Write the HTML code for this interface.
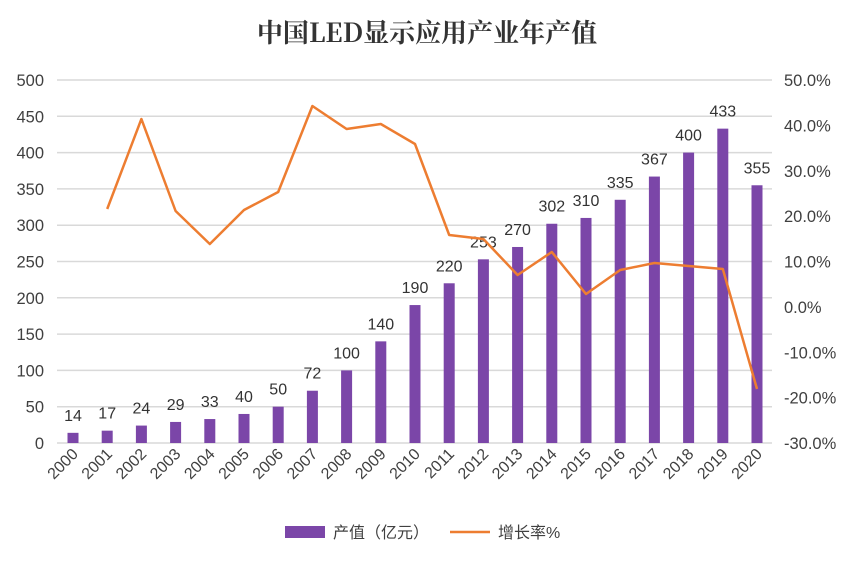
<!DOCTYPE html>
<html><head><meta charset="utf-8"><style>
body{margin:0;background:#fff;}
svg text{font-family:"Liberation Sans","Noto Sans CJK SC",sans-serif;fill:#404040;}
</style></head><body>
<svg width="854" height="565" viewBox="0 0 854 565" xmlns="http://www.w3.org/2000/svg">
<rect width="854" height="565" fill="#fff"/>
<text x="427" y="42" text-anchor="middle" font-size="26" font-weight="bold" style="font-family:'Noto Serif CJK SC',serif;fill:#333">中国LED显示应用产业年产值</text>
<g stroke="#d9d9d9" stroke-width="1.5" id="grid"></g>
<g id="bars" fill="#7b46a8"></g>
<g id="labels" font-size="16" text-anchor="middle"></g>
<g id="yl" font-size="16.5" text-anchor="end"></g>
<g id="yr" font-size="16.5" text-anchor="start"></g>
<g id="xl" font-size="16"></g>
<polyline id="line" fill="none" stroke="#ed7d31" stroke-width="2.5" stroke-linejoin="round"/>
<rect x="285" y="526" width="40" height="12" fill="#7b46a8"/>
<text x="333" y="538" font-size="16">产值（亿元）</text>
<line x1="450" y1="532" x2="490" y2="532" stroke="#ed7d31" stroke-width="2.5"/>
<text x="498" y="538" font-size="16">增长率%</text>
<script>
var ns="http://www.w3.org/2000/svg";
function el(p,t,a,txt){var e=document.createElementNS(ns,t);for(var k in a)e.setAttribute(k,a[k]);if(txt!=null)e.textContent=txt;document.getElementById(p).appendChild(e);}
var y0=443,yt=80,ppu=(y0-yt)/500;
for(var i=0;i<=10;i++){var y=y0-i*50*ppu;
el("grid","line",{x1:57,x2:772,y1:y,y2:y});
el("yl","text",{x:44,y:y+6},String(i*50));}
for(var i=0;i<=8;i++){var v=-30+i*10;var y=y0-i*(y0-yt)/8;
el("yr","text",{x:784,y:y+6},v.toFixed(1)+"%");}
var vals=[14,17,24,29,33,40,50,72,100,140,190,220,253,270,302,310,335,367,400,433,355];
var ly=[null,209,119,211,244,210,192,106,129,124,144,235,239,275,252,294,270,263,266,269,389];
var pts=[];
for(var i=0;i<21;i++){var x=73+i*34.2;var h=vals[i]*ppu;
el("bars","rect",{x:x-5.5,y:y0-h,width:11,height:h});
el("labels","text",{x:x,y:y0-h-12,style:"fill:#333"},String(vals[i]));
el("xl","text",{x:x+6,y:455,"text-anchor":"end",transform:"rotate(-45 "+(x+6)+" 455)"},String(2000+i));
if(ly[i]!=null)pts.push(x+","+ly[i]);}
document.getElementById("line").setAttribute("points",pts.join(" "));
</script>
</svg>
</body></html>
